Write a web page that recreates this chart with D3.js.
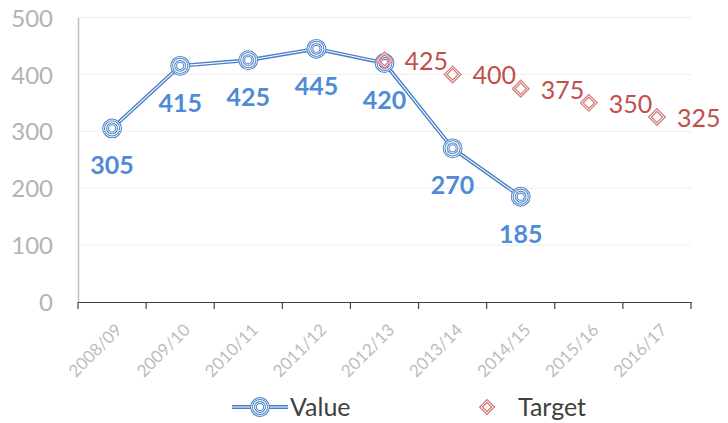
<!DOCTYPE html>
<html>
<head>
<meta charset="utf-8">
<script src="https://cdn.jsdelivr.net/npm/d3@7"></script>
<style>
  body { margin: 0; background: #fff; }
  svg { font-family: Lato, "Open Sans", sans-serif; display: block; }
  .grid line { stroke: #ededed; stroke-width: 1; }
</style>
</head>
<body>
<div class="container"></div>
<script>
const WIDTH = 728;
const HEIGHT = 423;
const LEFT = 78, RIGHT = 691, TOP = 17.5, BOTTOM = 302;

const categories = ["2008/09", "2009/10", "2010/11", "2011/12", "2012/13", "2013/14", "2014/15", "2015/16", "2016/17"];
const valueSeries = [305, 415, 425, 445, 420, 270, 185];
const targetCats = ["2012/13", "2013/14", "2014/15", "2015/16", "2016/17"];
const targetSeries = [425, 400, 375, 350, 325];
const yTicks = [0, 100, 200, 300, 400, 500];

const BLUE = "#4a7fc8";
const LABEL_BLUE = "#4f8bd6";
const RED = "#d9817f";
const LABEL_RED = "#c0504d";
const GRAY = "#bfbfbf";

const x = d3.scaleBand().domain(categories).range([LEFT, RIGHT]);
const y = d3.scaleLinear().domain([0, 500]).range([BOTTOM, TOP]);
const cx = c => x(c) + x.bandwidth() / 2;

const valuePts = valueSeries.map((v, i) => ({c: categories[i], v: v}));
const targetPts = targetSeries.map((v, i) => ({c: targetCats[i], v: v}));

const svg = d3.select(".container").append("svg")
  .attr("width", WIDTH).attr("height", HEIGHT);

// gridlines
svg.append("g").attr("class", "grid")
  .selectAll("line").data(yTicks.filter(t => t > 0)).enter().append("line")
  .attr("x1", LEFT).attr("x2", RIGHT)
  .attr("y1", d => y(d)).attr("y2", d => y(d));

// y axis
const yAxis = svg.append("g").attr("transform", "translate(" + LEFT + ",0)")
  .call(d3.axisLeft(y).tickValues(yTicks).tickSize(0).tickPadding(25))
  .attr("font-family", null);
yAxis.select(".domain").attr("stroke", GRAY).attr("stroke-width", 1.5);
yAxis.selectAll("text").attr("fill", "#b3b3b3").attr("font-size", 24).attr("dy", "0.36em");

// x axis
const xAxis = svg.append("g").attr("transform", "translate(0," + BOTTOM + ")")
  .call(d3.axisBottom(x).tickSize(0).tickFormat(""))
  .attr("font-family", null);
xAxis.select(".domain").attr("stroke", "#404040").attr("stroke-width", 1.2);
xAxis.selectAll(".edge").data(d3.range(categories.length + 1)).enter().append("line")
  .attr("x1", i => LEFT + i * x.step()).attr("x2", i => LEFT + i * x.step())
  .attr("y1", 0).attr("y2", 7).attr("stroke", "#404040").attr("stroke-width", 1.2);
xAxis.selectAll(".lbl").data(categories).enter().append("text")
  .attr("text-anchor", "end")
  .attr("font-size", 17)
  .attr("fill", "#bdbdbd")
  .attr("transform", d => "translate(" + (cx(d) + 11) + ",29) rotate(-45)")
  .text(d => d);

const line = d3.line().x(d => cx(d.c)).y(d => y(d.v));

// value line (double stroke look)
svg.append("path").datum(valuePts).attr("d", line)
  .attr("fill", "none").attr("stroke", BLUE).attr("stroke-width", 3.8).attr("stroke-linejoin", "round");
svg.append("path").datum(valuePts).attr("d", line)
  .attr("fill", "none").attr("stroke", "#fff").attr("stroke-width", 1.1).attr("stroke-linejoin", "round");

function ringMarker(g, px, py) {
  [8.5, 4.5].forEach(r => {
    g.append("circle").attr("cx", px).attr("cy", py).attr("r", r)
      .attr("fill", r > 5 ? "#fff" : "none").attr("stroke", BLUE).attr("stroke-width", 2.8);
    g.append("circle").attr("cx", px).attr("cy", py).attr("r", r)
      .attr("fill", "none").attr("stroke", "#fff").attr("stroke-width", 0.9);
  });
}
function diamondMarker(g, px, py, s) {
  const path = "M" + px + "," + (py - s) + "L" + (px + s) + "," + py + "L" + px + "," + (py + s) + "L" + (px - s) + "," + py + "Z";
  g.append("path").attr("d", path).attr("fill", "none").attr("stroke", RED).attr("stroke-width", 3.2);
  g.append("path").attr("d", path).attr("fill", "none").attr("stroke", "#fff").attr("stroke-width", 0.9);
}

const markers = svg.append("g");
valuePts.forEach(d => ringMarker(markers, cx(d.c), y(d.v)));
targetPts.forEach(d => diamondMarker(markers, cx(d.c), y(d.v), 7));

// labels
svg.append("g").selectAll("text").data(valuePts).enter().append("text")
  .attr("x", d => cx(d.c)).attr("y", d => y(d.v) + 46)
  .attr("text-anchor", "middle").attr("font-size", 25).attr("font-weight", "bold")
  .attr("fill", LABEL_BLUE).text(d => d.v);

svg.append("g").selectAll("text").data(targetPts).enter().append("text")
  .attr("x", d => cx(d.c) + 20).attr("y", d => y(d.v) + 10)
  .attr("font-size", 25).attr("fill", LABEL_RED).text(d => d.v);

// legend
const lg = svg.append("g");
lg.append("line").attr("x1", 232).attr("x2", 288).attr("y1", 407).attr("y2", 407)
  .attr("stroke", BLUE).attr("stroke-width", 3.8);
lg.append("line").attr("x1", 232).attr("x2", 288).attr("y1", 407).attr("y2", 407)
  .attr("stroke", "#fff").attr("stroke-width", 1.1);
ringMarker(lg, 260, 407);
lg.append("text").attr("x", 290).attr("y", 416).attr("font-size", 25).attr("fill", "#404040").text("Value");
diamondMarker(lg, 487, 407, 6);
lg.append("text").attr("x", 518).attr("y", 416).attr("font-size", 25).attr("fill", "#404040").text("Target");
</script>
</body>
</html>
